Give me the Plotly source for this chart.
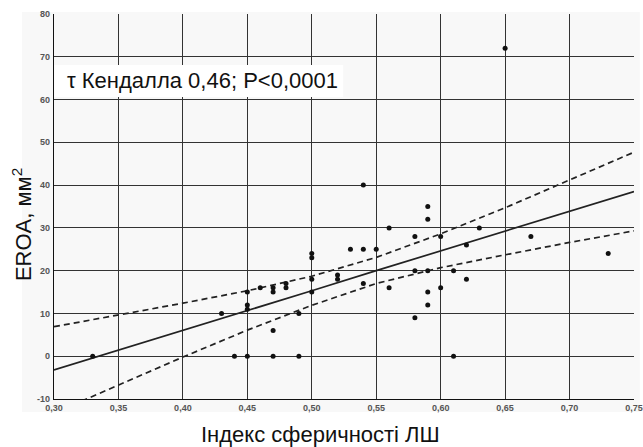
import plotly.graph_objects as go

# Scatter data (sphericity index vs EROA)
sph_index = [0.33, 0.43, 0.44, 0.45, 0.45, 0.45, 0.45, 0.46, 0.47, 0.47, 0.47, 0.47,
             0.48, 0.48, 0.49, 0.49, 0.50, 0.50, 0.50, 0.50, 0.52, 0.52, 0.53,
             0.54, 0.54, 0.54, 0.55, 0.56, 0.56, 0.58, 0.58, 0.58,
             0.59, 0.59, 0.59, 0.59, 0.59, 0.60, 0.60, 0.61, 0.61,
             0.62, 0.62, 0.63, 0.65, 0.67, 0.73]
eroa = [0, 10, 0, 0, 15, 12, 11, 16, 16, 15, 6, 0,
        17, 16, 10, 0, 24, 23, 18, 15, 19, 18, 25,
        40, 25, 17, 25, 30, 16, 28, 20, 9,
        35, 32, 20, 15, 12, 28, 16, 20, 0,
        26, 18, 30, 72, 28, 24]

# Regression line and 95% band
fit_x = [0.30, 0.35, 0.40, 0.45, 0.50, 0.55, 0.60, 0.65, 0.70, 0.75]
fit_y = [-3.2, 1.4, 6.1, 10.7, 15.3, 20.0, 24.6, 29.2, 33.9, 38.5]
upper_y = [6.9, 9.6, 12.4, 15.3, 18.7, 23.1, 28.6, 34.7, 41.2, 47.7]
lower_y = [-13.3, -6.8, -0.2, 6.1, 11.9, 17.0, 20.7, 23.7, 26.6, 29.3]

x_ticks = [0.30, 0.35, 0.40, 0.45, 0.50, 0.55, 0.60, 0.65, 0.70, 0.75]
x_tick_labels = ["0,30", "0,35", "0,40", "0,45", "0,50", "0,55", "0,60", "0,65", "0,70", "0,75"]
y_ticks = [-10, 0, 10, 20, 30, 40, 50, 60, 70, 80]
y_tick_labels = ["-10", "0", "10", "20", "30", "40", "50", "60", "70", "80"]

stat_text = "\u03c4 Кендалла 0,46; P<0,0001"
x_title = "Індекс сферичності ЛШ"
y_title = "EROA, мм<sup>2</sup>"

fig = go.Figure()
fig.add_trace(go.Scatter(x=fit_x, y=upper_y, mode="lines",
                         line=dict(color="#222", width=1.7, dash="6px,4px"), hoverinfo="skip"))
fig.add_trace(go.Scatter(x=fit_x, y=lower_y, mode="lines",
                         line=dict(color="#222", width=1.7, dash="6px,4px"), hoverinfo="skip"))
fig.add_trace(go.Scatter(x=fit_x, y=fit_y, mode="lines",
                         line=dict(color="#222", width=1.7), hoverinfo="skip"))
fig.add_trace(go.Scatter(x=sph_index, y=eroa, mode="markers",
                         marker=dict(color="#111", size=5), cliponaxis=False))

tick_font = dict(family="Liberation Sans, Arial", size=9, color="#555", weight="bold")
title_font = dict(family="Liberation Sans, Arial", size=22, color="#111")

fig.update_xaxes(range=[0.30, 0.75], tickvals=x_ticks, ticktext=x_tick_labels,
                 showgrid=True, gridcolor="#333", gridwidth=1,
                 showline=True, linecolor="#111", linewidth=1.2,
                 zeroline=False, ticks="", tickfont=tick_font, ticklabelstandoff=0,
                 automargin=False)
fig.update_yaxes(range=[-10, 80], tickvals=y_ticks, ticktext=y_tick_labels,
                 showgrid=True, gridcolor="#333", gridwidth=1,
                 showline=True, linecolor="#111", linewidth=1.2,
                 zeroline=False, ticks="", tickfont=tick_font, ticklabelstandoff=1,
                 automargin=False)

# axis titles
fig.add_annotation(x=0.46, xref="paper", y=-0.0935, yref="paper", yanchor="middle",
                   text=x_title, showarrow=False, font=title_font)
fig.add_annotation(x=-0.055, xref="paper", y=0.452, yref="paper",
                   xanchor="center", yanchor="middle",
                   text=y_title, textangle=-90, showarrow=False, font=title_font)

# white box for statistics text
fig.add_shape(type="rect", xref="x", yref="y", x0=0.3002, x1=0.5244, y0=60.6, y1=68.1,
              fillcolor="white", line=dict(width=0), layer="above")
fig.add_annotation(x=0.3085, y=64.4, xref="x", yref="y", xanchor="left", yanchor="middle",
                   text=stat_text, showarrow=False,
                   font=dict(family="Liberation Sans, Arial", size=22, color="#111"))

fig.add_shape(type="rect", xref="paper", yref="paper", x0=-0.055, x1=1.01, y0=-0.034, y1=1.005,
              fillcolor="#f8f8f8", line=dict(width=0), layer="below")

fig.update_layout(width=643, height=447, showlegend=False,
                  margin=dict(l=54, r=9, t=14, b=48),
                  paper_bgcolor="white", plot_bgcolor="#fcfcfc")

fig.write_html("out.html", config={"displayModeBar": False},
               post_script="document.body.style.margin='0';document.body.style.overflow='hidden';")
